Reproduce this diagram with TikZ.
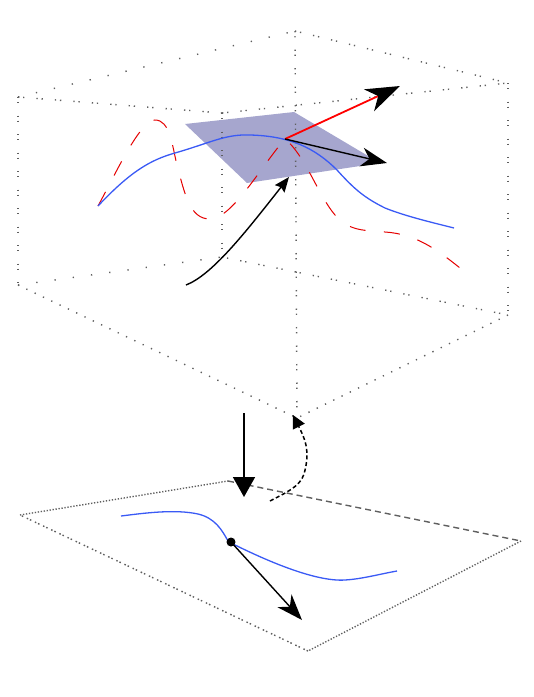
\documentclass[tikz,border=0pt]{standalone}
\usetikzlibrary{arrows.meta}
\definecolor{planefill}{RGB}{166,166,206}
\definecolor{curveblue}{RGB}{58,90,245}
\definecolor{edgegray}{RGB}{95,95,95}
\tikzset{
  single/.style={edgegray,line width=1.4pt,dash pattern=on 1.3pt off 17.1pt},
  pair/.style={edgegray,line width=1.4pt,dash pattern=on 1.3pt off 3.8pt on 1.3pt off 12.1pt},
  singleclose/.style={edgegray,line width=1.4pt,dash pattern=on 1.3pt off 7.9pt},
  pairtight/.style={edgegray,line width=1.4pt,dash pattern=on 1.5pt off 2pt on 1.5pt off 4pt},
  fine/.style={edgegray,line width=1.4pt,dash pattern=on 1.3pt off 1.7pt},
  longdash/.style={edgegray,line width=1.4pt,dash pattern=on 6pt off 4pt},
  bigtip/.style={-{Stealth[black,length=34pt,width=24pt,inset=10pt]}},
  blacktip/.style={-{Stealth[length=26pt,width=19pt,inset=8pt]}},
  midtip/.style={-{Stealth[length=15pt,width=12pt,inset=2pt]}},
  curveline/.style={curveblue,line width=1.3pt,line join=round},
}
\begin{document}
\begin{tikzpicture}[x=1pt,y=-1pt]
\useasboundingbox (0,0) rectangle (534,697);
% box corners
\coordinate (tb) at (295,31);
\coordinate (tl) at (18,97);
\coordinate (tr) at (508,83);
\coordinate (tf) at (222,113);
\coordinate (bl) at (18,285);
\coordinate (br) at (508,315);
\coordinate (bf) at (297,418);
\coordinate (bb) at (222,257);
% plane
\coordinate (p1) at (185,124);
\coordinate (p2) at (294,112);
\coordinate (p3) at (380,163);
\coordinate (p4) at (247,183);
\fill[planefill] (p1) -- (p2) -- (p3) -- (p4) -- cycle;
% box edges
\draw[single] (tl) -- (tb);
\draw[pair] (tb) -- (tr);
\draw[pair] (tl) -- (tf);
\draw[pair] (tf) -- (tr);
\draw[pair] (tl) -- (bl);
\draw[pair] (tr) -- (br);
\draw[pair] (tb) -- (bf);
\draw[pair] (tf) -- (bb);
\draw[single] (bl) -- (bb);
\draw[pair] (bb) -- (br);
\draw[singleclose] (bl) -- (bf);
\draw[singleclose] (br) -- (bf);
% curves
\draw[red!90!black,line width=1pt,dash pattern=on 16pt off 18.5pt] (98,206) .. controls (115,175) and (140,120) .. (155,120) .. controls (170,120) and (172,145) .. (177,165) .. controls (185,195) and (190,219) .. (210,219) .. controls (232,219) and (262,165) .. (285,139) .. controls (305,155) and (318,195) .. (335,215) .. controls (350,232) and (365,230) .. (385,232) .. controls (415,234) and (435,248) .. (460,268);
\draw[curveline] (98,206) .. controls (130,172) and (150,160) .. (175,153) .. controls (210,143) and (225,134) .. (250,135) .. controls (290,136) and (315,148) .. (337,170) .. controls (355,190) and (365,198) .. (385,208) .. controls (405,216) and (430,222) .. (454,228);
% upper arrows
\coordinate (o) at (285,139);
\coordinate (nrm) at (400,86);
\coordinate (tan) at (387,163);
\coordinate (cs) at (186,285);
\coordinate (ce) at (289,177);
\draw[red,line width=1.8pt,bigtip] (o) -- (nrm);
\draw[black,line width=1.4pt,blacktip] (o) -- (tan);
\draw[black,line width=1.4pt,midtip] (cs) .. controls (212,275) and (245,233) .. (ce);
% between
\coordinate (da) at (244,413);
\coordinate (db) at (244,497);
\coordinate (ua) at (270,501);
\coordinate (ub) at (293,415);
% lower plane
\coordinate (ql) at (20,515);
\coordinate (qb) at (228,481);
\coordinate (qr) at (521,541);
\coordinate (qf) at (308,651);
\draw[fine] (ql) -- (qb);
\draw[longdash] (qb) -- (qr);
\draw[fine] (qr) -- (qf);
\draw[pairtight] (qf) -- (ql);
\draw[black,line width=1.7pt,-{Stealth[length=20pt,width=22pt,inset=0pt]}] (da) -- (db);
\draw[black,line width=1.5pt,dash pattern=on 4pt off 2.6pt,-{Stealth[length=13pt,width=13pt,inset=0pt]}] (ua) .. controls (285,493) and (300,487) .. (304,474) .. controls (311,450) and (304,437) .. (ub);
% lower curve
\coordinate (pt) at (231,542);
\coordinate (lt) at (302,620);
\draw[curveline] (121,516) .. controls (145,513) and (175,509) .. (198,514) .. controls (215,518) and (222,530) .. (228,541);
\draw[curveline] (231,543) .. controls (265,560) and (315,582) .. (345,580) .. controls (362,579) and (380,574) .. (397,571);
\draw[black,line width=1.4pt,blacktip] (pt) -- (lt);
\node[circle,fill=black,inner sep=0pt,minimum size=9pt] (dot) at (pt) {};
\end{tikzpicture}
\end{document}
